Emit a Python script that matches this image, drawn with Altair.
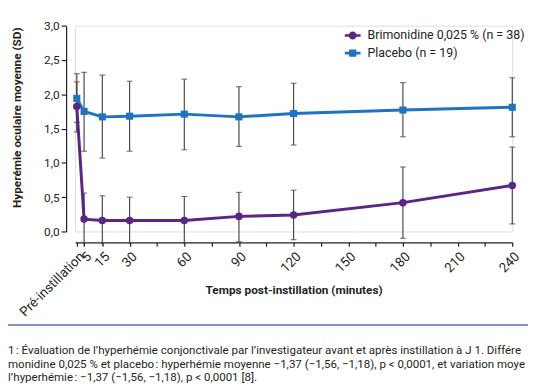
import altair as alt
import pandas as pd

# ---- data ----
time_labels = ["Pré-instillation", "5", "15", "30", "60", "90", "120", "180", "240"]
times = [1, 5, 15, 30, 60, 90, 120, 180, 240]

brim_name = "Brimonidine 0,025 % (n = 38)"
plac_name = "Placebo (n = 19)"

brim_mean = [1.82, 0.18, 0.16, 0.16, 0.16, 0.22, 0.24, 0.42, 0.67]
brim_upper = [2.18, 0.56, 0.52, 0.50, 0.51, 0.57, 0.60, 0.94, 1.23]
brim_lower = [1.45, -0.20, -0.20, -0.18, -0.19, -0.15, -0.12, -0.10, 0.11]

plac_mean = [1.94, 1.75, 1.67, 1.68, 1.71, 1.67, 1.72, 1.77, 1.81]
plac_upper = [2.30, 2.32, 2.28, 2.19, 2.22, 2.11, 2.16, 2.17, 2.24]
plac_lower = [1.59, 1.17, 1.07, 1.17, 1.19, 1.24, 1.26, 1.38, 1.38]

x_ticks = [1, 5, 15, 30, 45, 60, 75, 90, 105, 120, 135, 150, 165, 180, 195, 210, 225, 240]
y_ticks = [0, 0.5, 1.0, 1.5, 2.0, 2.5, 3.0]

caption = [
    "1\u202f: Évaluation de l’hyperhémie conjonctivale par l’investigateur avant et après instillation à J 1. Différe",
    "monidine 0,025 % et placebo\u202f: hyperhémie moyenne −1,37 (−1,56, −1,18), p < 0,0001, et variation moye",
    "l’hyperhémie\u202f: −1,37 (−1,56, −1,18), p < 0,0001 [8].",
]

groups = [brim_name, plac_name]
colors = ["#5b2585", "#1f74c1"]

rows = []
for g, m, lo, up in [(brim_name, brim_mean, brim_lower, brim_upper),
                     (plac_name, plac_mean, plac_lower, plac_upper)]:
    for t, mm, l, u in zip(times, m, lo, up):
        rows.append({"time": t, "group": g, "mean": mm, "lower": l, "upper": u})
df = pd.DataFrame(rows)

FONT = "Roboto"
INK = "#231f20"

xscale = alt.Scale(domain=[0, 240], nice=False, zero=False)
yscale = alt.Scale(domain=[0, 3], nice=False, zero=False)

xaxis = alt.Axis(
    values=x_ticks,
    labelExpr="datum.value == 1 ? 'Pré-instillation' : ((datum.value == 5 || datum.value == 15 || datum.value % 30 == 0) ? datum.label : '')",
    labelAngle=-45, labelFontSize=13.5, labelFont=FONT, labelColor=INK,
    labelPadding=3,
    title="Temps post-instillation (minutes)", titleFont=FONT, titleFontSize=12,
    titleFontWeight="bold", titleColor=INK, titleY=48, titleBaseline="middle",
    offset=11, grid=False, domainColor=INK, tickColor=INK, domainWidth=1.2,
    tickWidth=1.2, tickSize=4, labelOverlap=False,
)
yaxis = alt.Axis(
    values=y_ticks, format=".1f",
    labelExpr="replace(datum.label, '.', ',')",
    labelFontSize=12, labelFont=FONT, labelColor=INK, labelPadding=2,
    title="Hyperémie oculaire moyenne (SD)", titleFont=FONT, titleFontSize=12,
    titleFontWeight="bold", titleColor=INK, titleX=-50, titleY=93,
    titleBaseline="middle", titleAngle=-90,
    offset=9, grid=False, domainColor=INK, tickColor=INK, domainWidth=1.2,
    tickWidth=1.2, tickSize=5,
)

X = alt.X("time:Q", scale=xscale, axis=xaxis)
color_scale = alt.Scale(domain=groups, range=colors)

circle_path = "M-1,-0.17H1V0.17H-1Z M0.5,0A0.5,0.5,0,1,1,-0.5,0A0.5,0.5,0,1,1,0.5,0Z"
square_path = "M-1,-0.17H1V0.17H-1Z M-0.46,-0.46H0.46V0.46H-0.46Z"

legend = alt.Legend(
    title=None, orient="none", legendX=274, legendY=2, padding=0,
    labelFont=FONT, labelFontSize=12.6, labelColor=INK, labelOffset=7,
    symbolSize=256, rowPadding=3, symbolStrokeWidth=0, symbolOpacity=1,
)

base = alt.Chart(df)

# helper layer that carries the legend (drawn small, underneath the real points)
legend_layer = base.mark_point(filled=True, size=30, opacity=1).encode(
    x=X,
    y=alt.Y("mean:Q", scale=yscale, axis=yaxis),
    color=alt.Color("group:N", scale=color_scale, legend=legend),
    shape=alt.Shape("group:N", scale=alt.Scale(domain=groups, range=[circle_path, square_path]),
                    legend=legend),
)
bars = base.mark_rule(color="#3a3a3a", strokeWidth=1.1).encode(
    x=X,
    y=alt.Y("lower:Q", scale=yscale, axis=yaxis),
    y2="upper:Q",
)
caps_up = base.mark_tick(orient="horizontal", color="#3a3a3a", size=6, thickness=1.1).encode(
    x=X, y=alt.Y("upper:Q", scale=yscale, axis=yaxis),
)
caps_lo = base.transform_filter("datum.lower > -0.17").mark_tick(
    orient="horizontal", color="#3a3a3a", size=6, thickness=1.1).encode(
    x=X, y=alt.Y("lower:Q", scale=yscale, axis=yaxis),
)
lines = base.mark_line(strokeWidth=3).encode(
    x=X,
    y=alt.Y("mean:Q", scale=yscale, axis=yaxis),
    color=alt.Color("group:N", scale=color_scale, legend=None),
    detail="group:N",
)
pts_brim = base.transform_filter(alt.datum.group == brim_name).mark_point(
    filled=True, size=58, opacity=1, shape="circle").encode(
    x=X,
    y=alt.Y("mean:Q", scale=yscale, axis=yaxis),
    color=alt.Color("group:N", scale=color_scale, legend=None),
)
pts_plac = base.transform_filter(alt.datum.group == plac_name).mark_point(
    filled=True, size=52, opacity=1, shape="square").encode(
    x=X,
    y=alt.Y("mean:Q", scale=yscale, axis=yaxis),
    color=alt.Color("group:N", scale=color_scale, legend=None),
)
separator = alt.Chart(pd.DataFrame({"k": [0]})).mark_rule(color="#5570b5", strokeWidth=1.6).encode(
    x=alt.value(-68), x2=alt.value(460), y=alt.value(304),
)

chart = alt.layer(legend_layer, bars, caps_up, caps_lo, lines, pts_brim, pts_plac, separator).properties(
    width=444, height=209,
    autosize=alt.AutoSizeParams(type="none"),
    padding={"left": 68, "top": 15, "right": 16, "bottom": 154},
    title=alt.TitleParams(
        text=caption, orient="bottom", anchor="start", frame="group", dx=-68,
        offset=20, font=FONT, fontSize=11.7, fontWeight="normal", color=INK,
        lineHeight=13.5, align="left",
    ),
).configure_view(strokeWidth=0).configure(background="white")

chart.save("out.html", embed_options={"renderer": "svg", "actions": False})
